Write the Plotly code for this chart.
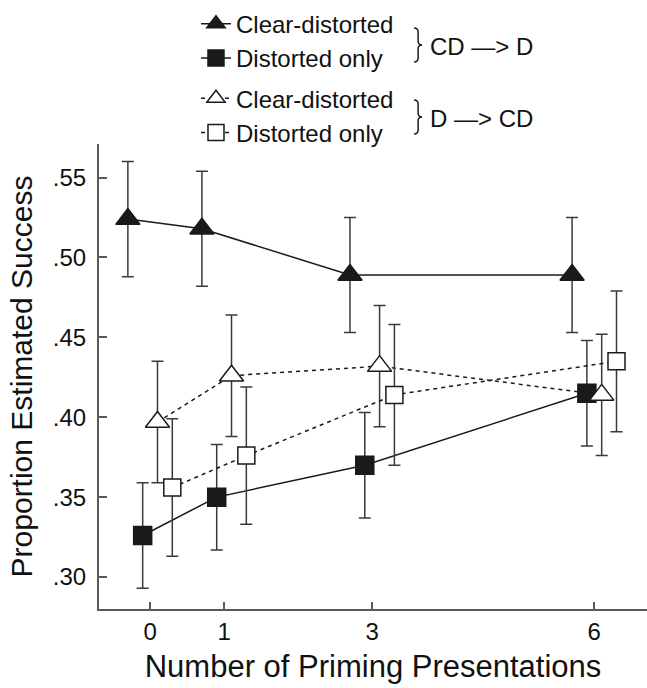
import plotly.graph_objects as go

# ---- data ----
presentations = [0, 1, 3, 6]
x_tick_labels = ["0", "1", "3", "6"]
y_tick_values = [0.30, 0.35, 0.40, 0.45, 0.50, 0.55]
y_tick_labels = [".30", ".35", ".40", ".45", ".50", ".55"]

cdd_clear = [0.524, 0.518, 0.489, 0.489]
cdd_clear_err = [0.036, 0.036, 0.036, 0.036]
cdd_dist = [0.326, 0.350, 0.370, 0.415]
cdd_dist_err = [0.033, 0.033, 0.033, 0.033]
dcd_clear = [0.397, 0.426, 0.432, 0.414]
dcd_clear_err = [0.038, 0.038, 0.038, 0.038]
dcd_dist = [0.356, 0.376, 0.414, 0.435]
dcd_dist_err = [0.043, 0.043, 0.044, 0.044]

group_labels = ["CD \u2014> D", "D \u2014> CD"]
series_names = ["Clear-distorted", "Distorted only", "Clear-distorted", "Distorted only"]

# ---- style ----
FONT = "Liberation Sans, Arial, Helvetica, sans-serif"
LINE_C = "#1a1a1a"
ERR_C = "#3a3a3a"
AXIS_C = "#5a5a5a"

series = [
    dict(y=cdd_clear, e=cdd_clear_err, off=-0.3, sym="triangle-up", fill=LINE_C, size=21, dash="solid", grp="g1"),
    dict(y=cdd_dist, e=cdd_dist_err, off=-0.1, sym="square", fill=LINE_C, size=18, dash="solid", grp="g1"),
    dict(y=dcd_clear, e=dcd_clear_err, off=0.1, sym="triangle-up", fill="white", size=21, dash="4px,4px", grp="g2"),
    dict(y=dcd_dist, e=dcd_dist_err, off=0.3, sym="square", fill="white", size=17, dash="4px,4px", grp="g2"),
]

fig = go.Figure()
for name, s in zip(series_names, series):
    fig.add_trace(go.Scatter(
        x=[p + s["off"] for p in presentations],
        y=s["y"],
        name=name,
        legendgroup=s["grp"],
        mode="lines+markers",
        line=dict(color=LINE_C, width=1.5, dash=s["dash"]),
        marker=dict(symbol=s["sym"], size=s["size"], color=s["fill"],
                    line=dict(color=LINE_C, width=1.5)),
        error_y=dict(type="data", array=s["e"], symmetric=True,
                     color=ERR_C, thickness=1.5, width=6),
    ))

fig.update_layout(
    width=647, height=688,
    margin=dict(l=99, r=0, t=144, b=79),
    paper_bgcolor="white", plot_bgcolor="white",
    font=dict(family=FONT, size=24, color="#111"),
    showlegend=True,
    legend=dict(
        x=0.177, y=1.306, xanchor="left", yanchor="top",
        traceorder="grouped", tracegroupgap=6,
        font=dict(family=FONT, size=24, color="#111"),
        bgcolor="rgba(0,0,0,0)", borderwidth=0,
        itemsizing="trace",
    ),
    xaxis=dict(
        range=[-0.69, 6.712],
        tickmode="array", tickvals=presentations, ticktext=x_tick_labels,
        ticks="inside", ticklen=7, tickwidth=1.5, tickcolor=AXIS_C,
        showline=True, linecolor=AXIS_C, linewidth=2,
        showgrid=False, zeroline=False,
        tickfont=dict(family=FONT, size=24, color="#111"),
        ticklabelstandoff=0,
        title=dict(text="Number of Priming Presentations",
                   font=dict(family=FONT, size=31, color="#111"), standoff=12),
    ),
    yaxis=dict(
        range=[0.28, 0.571],
        tickmode="array", tickvals=y_tick_values, ticktext=y_tick_labels,
        ticks="inside", ticklen=8, tickwidth=1.5, tickcolor=AXIS_C,
        showline=True, linecolor=AXIS_C, linewidth=2,
        showgrid=False, zeroline=False,
        tickfont=dict(family=FONT, size=24, color="#111"),
        ticklabelstandoff=6,
        title=dict(text="Proportion Estimated Success",
                   font=dict(family=FONT, size=30, color="#111"), standoff=11),
    ),
)

# braces and group labels in the legend area
brace = "M0,17 Q4,17 4,13 L4,4 Q4,0 8,0 Q4,0 4,-4 L4,-13 Q4,-17 0,-17"
brace_y = (1.2127, 1.0580)
for yc in brace_y:
    fig.add_shape(type="path", path=brace, xref="paper", yref="paper",
                  xsizemode="pixel", ysizemode="pixel",
                  xanchor=0.575, yanchor=yc,
                  line=dict(color=LINE_C, width=1.5))
for label, yc in zip(group_labels, brace_y):
    fig.add_annotation(text=label, xref="paper", yref="paper",
                       x=0.6, y=yc - 0.004, xanchor="left", yanchor="middle",
                       showarrow=False,
                       font=dict(family=FONT, size=24, color="#111"))

fig.write_html("out.html", config={"displayModeBar": False},
               post_script="document.body.style.margin='0px';")
